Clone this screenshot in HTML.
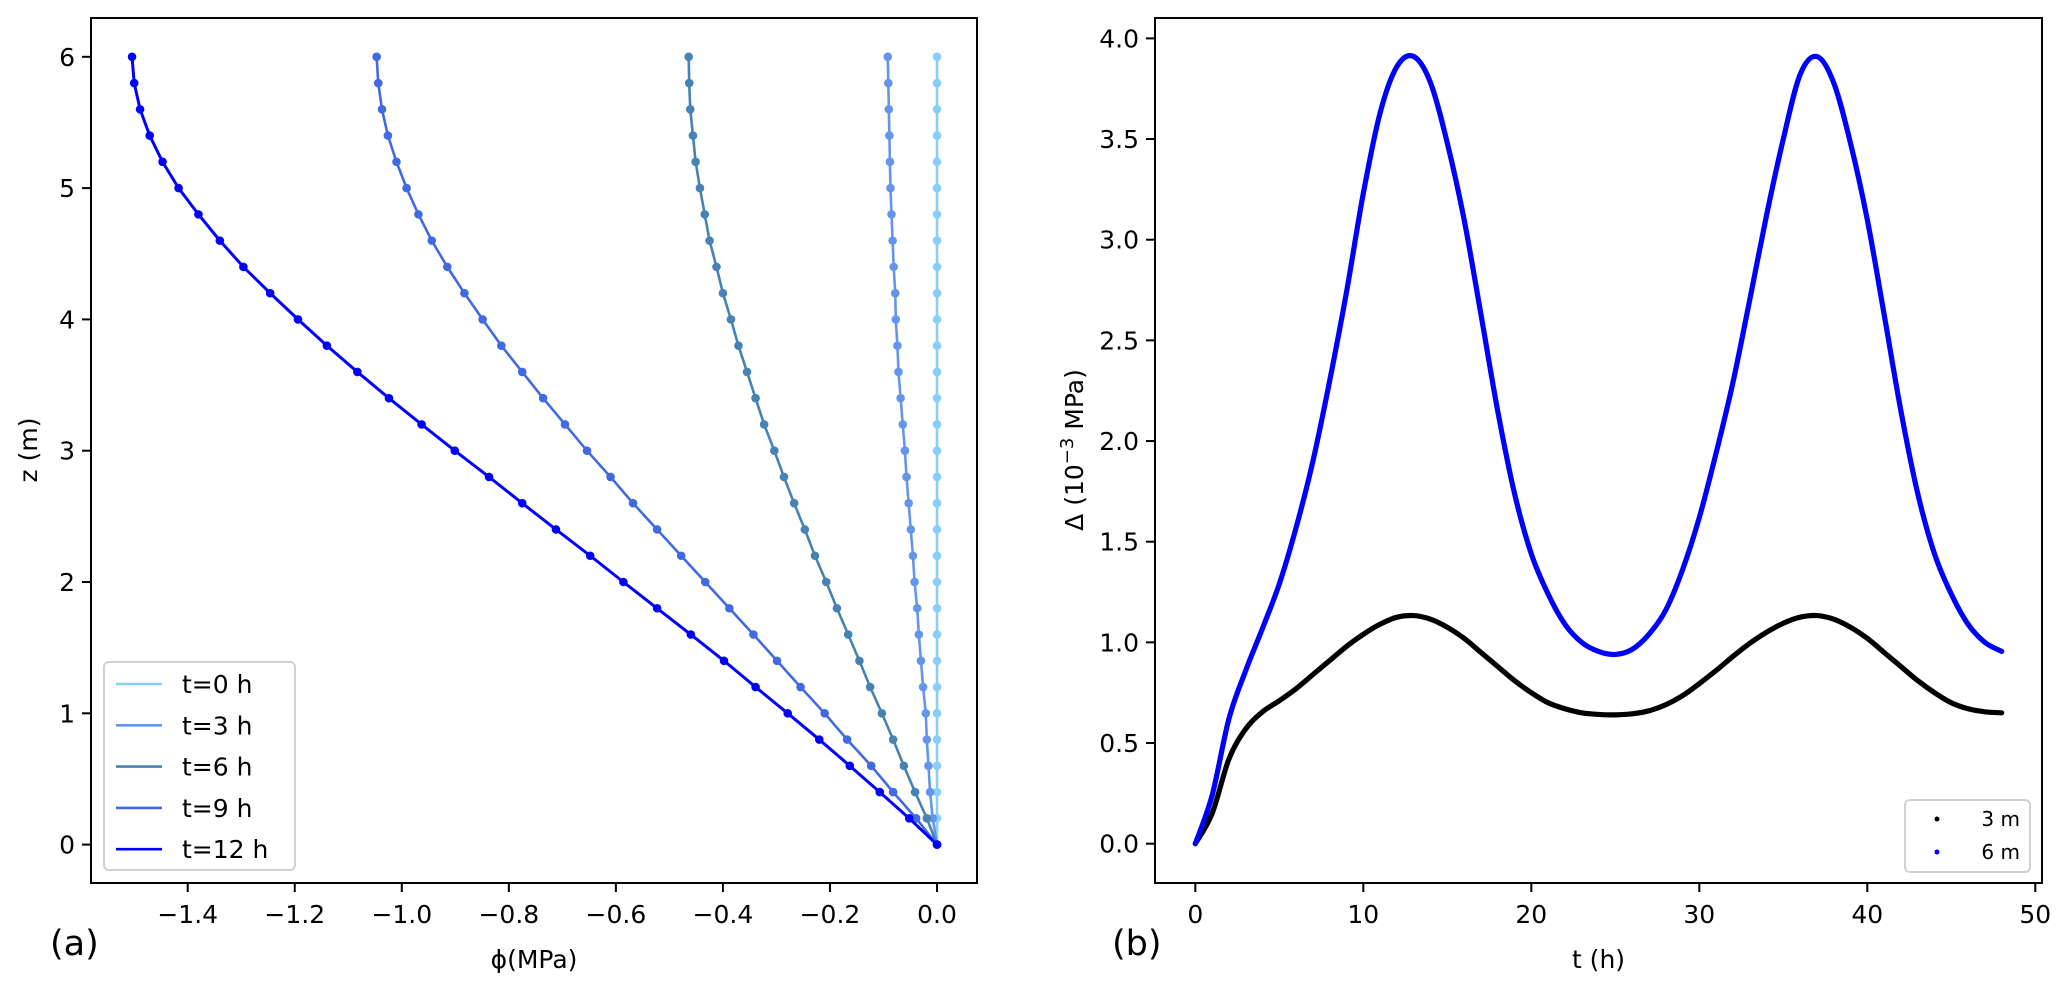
<!DOCTYPE html>
<html><head><meta charset="utf-8"><style>
html,body{margin:0;padding:0;background:#fff;}
svg{display:block;font-family:"DejaVu Sans","Liberation Sans",sans-serif;}
</style></head><body>
<svg id="fig" width="2067" height="985" viewBox="0 0 2067 985" xmlns="http://www.w3.org/2000/svg">
<rect width="2067" height="985" fill="#fff"/>
<g id="left"></g>
<g id="right"></g>
</svg>
<script>
// ---- Panel (a) data ----
const zLevels = [0,0.2,0.4,0.6,0.8,1.0,1.2,1.4,1.6,1.8,2.0,2.2,2.4,2.6,2.8,3.0,3.2,3.4,3.6,3.8,4.0,4.2,4.4,4.6,4.8,5.0,5.2,5.4,5.6,5.8,6.0];
const phiT0 = [0,0,0,0,0,0,0,0,0,0,0,0,0,0,0,0,0,0,0,0,0,0,0,0,0,0,0,0,0,0,0];
const phiT3 = [0,-0.008,-0.013,-0.016,-0.019,-0.021,-0.026,-0.030,-0.034,-0.037,-0.042,-0.045,-0.049,-0.053,-0.057,-0.060,-0.064,-0.068,-0.072,-0.074,-0.077,-0.078,-0.081,-0.083,-0.085,-0.087,-0.088,-0.089,-0.090,-0.091,-0.092];
const phiT6 = [0,-0.019,-0.041,-0.062,-0.082,-0.103,-0.125,-0.145,-0.166,-0.187,-0.207,-0.228,-0.247,-0.267,-0.286,-0.304,-0.323,-0.339,-0.355,-0.371,-0.385,-0.400,-0.412,-0.425,-0.434,-0.443,-0.451,-0.456,-0.461,-0.463,-0.464];
const phiT9 = [0,-0.039,-0.082,-0.123,-0.168,-0.210,-0.255,-0.299,-0.343,-0.388,-0.433,-0.478,-0.523,-0.568,-0.610,-0.654,-0.695,-0.736,-0.775,-0.814,-0.849,-0.883,-0.915,-0.944,-0.969,-0.991,-1.010,-1.026,-1.037,-1.044,-1.047];
const phiT12 = [0,-0.052,-0.107,-0.163,-0.220,-0.279,-0.339,-0.398,-0.460,-0.523,-0.586,-0.648,-0.712,-0.775,-0.837,-0.901,-0.963,-1.024,-1.083,-1.140,-1.194,-1.246,-1.296,-1.340,-1.380,-1.417,-1.447,-1.471,-1.489,-1.500,-1.504];
const seriesNamesA = ["t=0 h","t=3 h","t=6 h","t=9 h","t=12 h"];
const xTicksA = [-1.4,-1.2,-1.0,-0.8,-0.6,-0.4,-0.2,0.0];
const yTicksA = [0,1,2,3,4,5,6];
// ---- Panel (b) data ----
const tHours = [0,1,2,3,4,5,6,7,8,9,10,11,12,13,14,15,16,17,18,19,20,21,22,23,24,25,26,27,28,29,30,31,32,33,34,35,36,37,38,39,40,41,42,43,44,45,46,47,48];
const delta3m = [0,0.15,0.42,0.57,0.655,0.71,0.77,0.84,0.91,0.98,1.04,1.09,1.125,1.133,1.115,1.075,1.02,0.95,0.88,0.81,0.75,0.70,0.67,0.65,0.642,0.64,0.645,0.66,0.69,0.735,0.795,0.86,0.93,0.995,1.05,1.095,1.125,1.133,1.115,1.075,1.02,0.95,0.88,0.81,0.75,0.70,0.67,0.655,0.65];
const delta6m = [0,0.24,0.62,0.86,1.07,1.29,1.57,1.90,2.30,2.74,3.23,3.63,3.86,3.91,3.78,3.48,3.10,2.63,2.15,1.74,1.44,1.24,1.09,1.00,0.955,0.94,0.965,1.04,1.16,1.36,1.62,1.94,2.29,2.70,3.12,3.50,3.82,3.91,3.78,3.48,3.10,2.63,2.15,1.74,1.44,1.24,1.09,1.00,0.955];
const xTicksB = [0,10,20,30,40,50];
const yTicksB = [0.0,0.5,1.0,1.5,2.0,2.5,3.0,3.5,4.0];

const NS="http://www.w3.org/2000/svg";
function mk(tag,attrs,parent){const e=document.createElementNS(NS,tag);for(const k in attrs)e.setAttribute(k,attrs[k]);parent.appendChild(e);return e;}
function catmull(pts){let d="M"+pts[0][0]+","+pts[0][1];for(let i=0;i<pts.length-1;i++){const p0=pts[Math.max(0,i-1)],p1=pts[i],p2=pts[i+1],p3=pts[Math.min(pts.length-1,i+2)];const c1=[p1[0]+(p2[0]-p0[0])/6,p1[1]+(p2[1]-p0[1])/6],c2=[p2[0]-(p3[0]-p1[0])/6,p2[1]-(p3[1]-p1[1])/6];d+=" C"+c1[0].toFixed(2)+","+c1[1].toFixed(2)+" "+c2[0].toFixed(2)+","+c2[1].toFixed(2)+" "+p2[0].toFixed(2)+","+p2[1].toFixed(2);}return d;}
function fmt(v,d){return (v<0?"\u2212":"")+Math.abs(v).toFixed(d);}

// ---------- Panel A ----------
const L=document.getElementById('left');
const A={x0:91,x1:977,y0:18,y1:883,xmin:-1.5807,xmax:0.0747,ymin:-0.2925,ymax:6.2956};
const ax=v=>A.x0+(v-A.xmin)/(A.xmax-A.xmin)*(A.x1-A.x0);
const ay=v=>A.y1-(v-A.ymin)/(A.ymax-A.ymin)*(A.y1-A.y0);
const colorsA=["#87cefa","#6495ed","#4682b4","#4169e1","#0000ff"];
const dataA=[phiT0,phiT3,phiT6,phiT9,phiT12];
dataA.forEach((arr,si)=>{
  const g=mk('g',{},L);
  
  
  const pts=arr.map((v,i)=>[ax(v),ay(zLevels[i])]);
  const pl=mk('polyline',{points:pts.map(p=>p[0].toFixed(2)+","+p[1].toFixed(2)).join(" "),fill:"none",stroke:colorsA[si],"stroke-width":si==4?3:2.6},g);
  
  
  pts.forEach((p,i)=>{
    const c=mk('circle',{cx:p[0].toFixed(2),cy:p[1].toFixed(2),r:4.3,fill:colorsA[si]},g);
    
    
  });
});
const fa=mk('rect',{x:A.x0,y:A.y0,width:A.x1-A.x0,height:A.y1-A.y0,fill:"none",stroke:"#000","stroke-width":2},L);


xTicksA.forEach(v=>{
  const x=ax(v);
  mk('line',{x1:x,y1:A.y1,x2:x,y2:A.y1+9,stroke:"#000","stroke-width":2},L);
  const t=mk('text',{x:x,y:A.y1+40,"font-size":25,"text-anchor":"middle",fill:"#000"},L);
  t.textContent=fmt(v,1);
  
  
});
yTicksA.forEach(v=>{
  const y=ay(v);
  mk('line',{x1:A.x0-9,y1:y,x2:A.x0,y2:y,stroke:"#000","stroke-width":2},L);
  const t=mk('text',{x:A.x0-16,y:y+9,"font-size":25,"text-anchor":"end",fill:"#000"},L);
  t.textContent=String(v);
  
  
});
let tt=mk('text',{x:(A.x0+A.x1)/2,y:968,"font-size":25,"text-anchor":"middle"},L);tt.textContent="\u03d5(MPa)";


tt=mk('text',{x:0,y:0,"font-size":25,"text-anchor":"middle",transform:"translate(37,450) rotate(-90)"},L);tt.textContent="z (m)";


tt=mk('text',{x:50,y:955,"font-size":35},L);tt.textContent="(a)";


// legend A
const lg=mk('g',{},L);


mk('rect',{x:104,y:662,width:191,height:208,rx:5,fill:"#fff","fill-opacity":0.8,stroke:"#d0d0d0","stroke-width":2},lg);
seriesNamesA.forEach((n,i)=>{
  const y=684+i*41.3;
  const e=mk('g',{},lg);
  
  
  mk('line',{x1:116,y1:y,x2:162,y2:y,stroke:colorsA[i],"stroke-width":2.6},e);
  const t=mk('text',{x:182,y:y+9,"font-size":25},e);t.textContent=n;
});

// ---------- Panel B ----------
const R=document.getElementById('right');
const B={x0:1155,x1:2042,y0:18,y1:883,xmin:-2.4,xmax:50.4,ymin:-0.1953,ymax:4.1013};
const bx=v=>B.x0+(v-B.xmin)/(B.xmax-B.xmin)*(B.x1-B.x0);
const by=v=>B.y1-(v-B.ymin)/(B.ymax-B.ymin)*(B.y1-B.y0);
[[delta3m,"#000000","series-3m"],[delta6m,"#0000ff","series-6m"]].forEach(([arr,col,nm])=>{
  const pts=arr.map((v,i)=>[bx(tHours[i]),by(v)]);
  const p=mk('path',{d:catmull(pts),fill:"none",stroke:col,"stroke-width":5.2,"stroke-linecap":"round","stroke-linejoin":"round"},R);
  
  
});
const fb=mk('rect',{x:B.x0,y:B.y0,width:B.x1-B.x0,height:B.y1-B.y0,fill:"none",stroke:"#000","stroke-width":2},R);


xTicksB.forEach(v=>{
  const x=bx(v);
  mk('line',{x1:x,y1:B.y1,x2:x,y2:B.y1+9,stroke:"#000","stroke-width":2},R);
  const t=mk('text',{x:x,y:B.y1+40,"font-size":25,"text-anchor":"middle"},R);
  t.textContent=String(v);
  
  
});
yTicksB.forEach(v=>{
  const y=by(v);
  mk('line',{x1:B.x0-9,y1:y,x2:B.x0,y2:y,stroke:"#000","stroke-width":2},R);
  const t=mk('text',{x:B.x0-16,y:y+9,"font-size":25,"text-anchor":"end"},R);
  t.textContent=v.toFixed(1);
  
  
});
tt=mk('text',{x:(B.x0+B.x1)/2,y:968,"font-size":25,"text-anchor":"middle"},R);tt.textContent="t (h)";


tt=mk('text',{x:0,y:0,"font-size":25,"text-anchor":"middle",transform:"translate(1083,450) rotate(-90)"},R);
tt.innerHTML='\u0394 (10<tspan dy="-10" font-size="18">\u22123</tspan><tspan dy="10"> MPa)</tspan>';


tt=mk('text',{x:1112,y:955,"font-size":35},R);tt.textContent="(b)";


const lb=mk('g',{},R);


mk('rect',{x:1905,y:800,width:125,height:72,rx:5,fill:"#fff","fill-opacity":0.8,stroke:"#d0d0d0","stroke-width":2},lb);
[["3 m","#000"],["6 m","#0000ff"]].forEach(([n,c],i)=>{
  const y=819+i*33;
  const e=mk('g',{},lb);
  
  
  mk('circle',{cx:1937,cy:y,r:2.5,fill:c},e);
  const t=mk('text',{x:2020,y:y+7,"font-size":20,"text-anchor":"end"},e);t.textContent=n;
});
</script>
</body></html>
